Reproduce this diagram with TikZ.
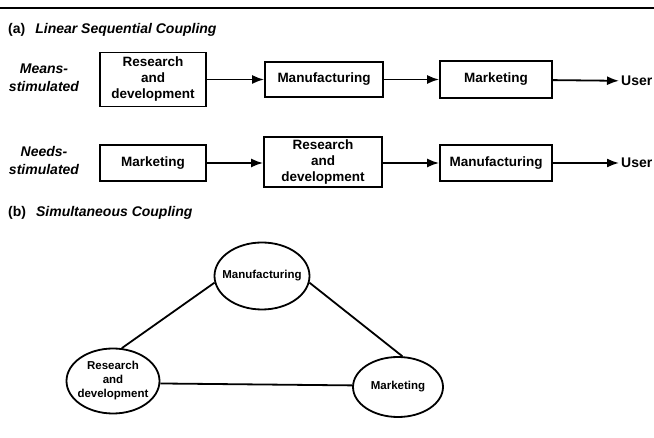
\documentclass[tikz,border=0pt]{standalone}
\usepackage{fontspec}
\setmainfont{Liberation Sans}
\usetikzlibrary{shapes,arrows,positioning,calc,arrows.meta}

\begin{document}
\begin{tikzpicture}[x=1pt, y=-1pt,
    box/.style={draw, rectangle, line width=1.8pt, align=center, inner sep=2pt, font=\fontsize{13.5}{16}\selectfont\bfseries},
    oval/.style={draw, ellipse, line width=1.8pt, inner sep=0pt},
    ovaltext/.style={align=center, font=\fontsize{11.5}{14}\selectfont\bfseries},
    side/.style={align=center, font=\fontsize{14}{18}\selectfont\bfseries\itshape},
    head/.style={anchor=west, inner sep=0pt, font=\fontsize{14}{16}\selectfont\bfseries},
    user/.style={anchor=west, inner sep=2pt, font=\fontsize{14}{16}\selectfont\bfseries},
    flow/.style={-{Latex[length=12pt,width=9pt]}, line width=1.8pt},
    link/.style={line width=1.8pt}]
    \useasboundingbox (0,0) rectangle (654,438);
    \draw[line width=1.8pt] (0,8) -- (654,8);

    \node (hda) [head] at (8,30) {(a)\hspace{10pt}{\itshape Linear Sequential Coupling}};

    \node (means) [side] at (44,78) {Means-\\stimulated};
    \node (rda) [box, minimum width=106pt, minimum height=54pt] at (153,79.5) {Research\\and\\development};
    \node (mfa) [box, minimum width=118pt, minimum height=35pt] at (324,79.5) {Manufacturing};
    \node (mka) [box, minimum width=112pt, minimum height=37pt] at (496,79.5) {Marketing};
    \node (usa) [user] at (619,81) {User};

    \draw[flow] (rda) -- (mfa);
    \draw[flow] (mfa) -- (mka);
    \draw[flow] (mka) -- (usa);

    \node (needs) [side] at (44,161) {Needs-\\stimulated};
    \node (mkb) [box, minimum width=106pt, minimum height=36pt] at (153,163) {Marketing};
    \node (rdb) [box, minimum width=118pt, minimum height=50pt] at (323,162) {Research\\and\\development};
    \node (mfb) [box, minimum width=112pt, minimum height=36pt] at (496,163) {Manufacturing};
    \node (usb) [user] at (619,163) {User};

    \draw[flow] (mkb) -- (rdb.west |- mkb);
    \draw[flow] (rdb.east |- mfb) -- (mfb);
    \draw[flow] (mfb) -- (usb);

    \node (hdb) [head] at (8,213) {(b)\hspace{10pt}{\itshape Simultaneous Coupling}};

    \node (mfc) [oval, minimum width=95pt, minimum height=67pt, label={[ovaltext]center:Manufacturing}] at (262,276) {};
    \node (rdc) [oval, minimum width=93pt, minimum height=65pt, label={[ovaltext]center:{Research\\and\\development}}] at (113,381) {};
    \node (mkc) [oval, minimum width=90pt, minimum height=60pt, label={[ovaltext]center:Marketing}] at (398,387) {};

    \draw[link] (rdc.75) -- (mfc.188);
    \draw[link] (mfc.352) -- (mkc.82);
    \draw[link] (rdc.-3) -- (mkc.178);
\end{tikzpicture}
\end{document}
